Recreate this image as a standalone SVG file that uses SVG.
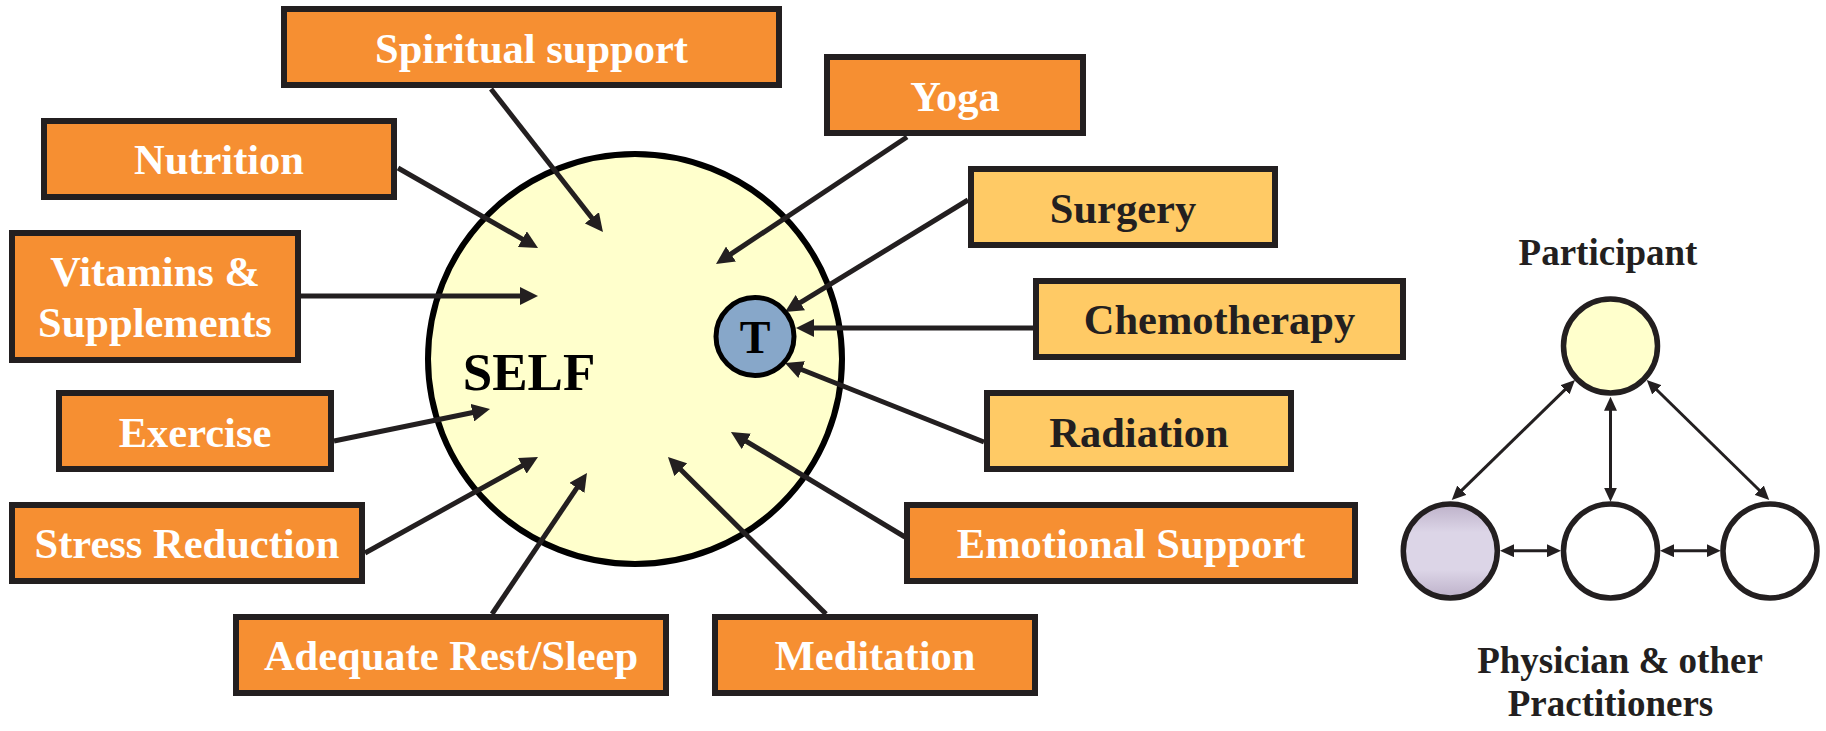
<svg xmlns="http://www.w3.org/2000/svg" width="1826" height="731" viewBox="0 0 1826 731">
<style>
.box{stroke:#231F20;stroke-width:6}
.or{fill:#F68F32}
.lt{fill:#FFCA65}
.tw{font-family:"Liberation Serif","Times New Roman",serif;font-weight:bold;font-size:42.5px;fill:#FFFFFF;text-anchor:middle}
.td{font-family:"Liberation Serif","Times New Roman",serif;font-weight:bold;font-size:42.5px;fill:#231F20;text-anchor:middle}
.lbl{font-family:"Liberation Serif","Times New Roman",serif;font-weight:bold;font-size:37px;fill:#231F20;text-anchor:middle}
.ar{stroke:#231F20;stroke-width:5;fill:none;marker-end:url(#ah)}
.ar2{stroke:#231F20;stroke-width:3;fill:none;marker-end:url(#sh);marker-start:url(#sh)}
.c{stroke:#231F20;stroke-width:5.5}
</style>
<defs>
<marker id="ah" markerUnits="userSpaceOnUse" markerWidth="18" markerHeight="18" refX="3" refY="9" orient="auto">
<path d="M0,0 L18,9 L0,18 z" fill="#231F20"/>
</marker>
<marker id="sh" markerUnits="userSpaceOnUse" markerWidth="14" markerHeight="13" refX="3" refY="6.5" orient="auto-start-reverse">
<path d="M0,0 L14,6.5 L0,13 z" fill="#231F20"/>
</marker>
<linearGradient id="lav" x1="0" y1="0" x2="0" y2="1">
<stop offset="0" stop-color="#BDB1C9"/>
<stop offset="0.3" stop-color="#DCD5E7"/>
<stop offset="0.7" stop-color="#DCD5E7"/>
<stop offset="1" stop-color="#BDB1C9"/>
</linearGradient>
</defs>
<rect width="1826" height="731" fill="#FFFFFF"/>

<g id="self">
<ellipse cx="635" cy="359" rx="207" ry="205" fill="#FFFFCC" stroke="#000000" stroke-width="6"/>
<text x="529" y="390" style="font-family:'Liberation Serif','Times New Roman',serif;font-weight:bold;font-size:53px;fill:#000000" text-anchor="middle">SELF</text>
</g>

<g id="connectors">
<line class="ar" x1="491" y1="89" x2="593.7" y2="220.2"/>
<line class="ar" x1="398" y1="168" x2="525" y2="240.6"/>
<line class="ar" x1="301" y1="296" x2="523" y2="296"/>
<line class="ar" x1="334" y1="441" x2="475.3" y2="412"/>
<line class="ar" x1="365" y1="553" x2="524.9" y2="464.3"/>
<line class="ar" x1="492" y1="614" x2="578.6" y2="485.4"/>
<line class="ar" x1="826" y1="614" x2="678.6" y2="467.6"/>
<line class="ar" x1="905" y1="537" x2="743.8" y2="439.8"/>
<line class="ar" x1="984" y1="442" x2="798.9" y2="368.5"/>
<line class="ar" x1="1036" y1="328" x2="811" y2="328"/>
<line class="ar" x1="968" y1="200" x2="797.8" y2="304.2"/>
<line class="ar" x1="907" y1="137" x2="728.5" y2="255.7"/>
<line class="ar2" x1="1567.1" y1="387.7" x2="1459.6" y2="492.3"/>
<line class="ar2" x1="1654.6" y1="387.7" x2="1761.4" y2="492.3"/>
<line class="ar2" x1="1610.5" y1="407.7" x2="1610.5" y2="490.7"/>
<line class="ar2" x1="1511" y1="550.7" x2="1550" y2="550.7"/>
<line class="ar2" x1="1671" y1="550.7" x2="1709.7" y2="550.7"/>
</g>

<g id="tumor">
<circle cx="755" cy="336.5" r="39" fill="#87A7C9" stroke="#000000" stroke-width="5"/>
<text x="755" y="352.5" style="font-family:'Liberation Serif','Times New Roman',serif;font-weight:bold;font-size:46px;fill:#000000" text-anchor="middle">T</text>
</g>

<g id="spiritual"><rect class="box or" x="284" y="9" width="495" height="76"/><text class="tw" x="531.5" y="63">Spiritual support</text></g>
<g id="nutrition"><rect class="box or" x="44" y="121" width="350" height="76"/><text class="tw" x="219" y="174">Nutrition</text></g>
<g id="vitamins"><rect class="box or" x="12" y="233" width="286" height="127"/><text class="tw" x="155" y="286">Vitamins &amp;</text><text class="tw" x="155" y="337">Supplements</text></g>
<g id="exercise"><rect class="box or" x="59" y="393" width="272" height="76"/><text class="tw" x="195" y="447">Exercise</text></g>
<g id="stress"><rect class="box or" x="12" y="505" width="350" height="76"/><text class="tw" x="187" y="558">Stress Reduction</text></g>
<g id="rest"><rect class="box or" x="236" y="617" width="430" height="76"/><text class="tw" x="451" y="670">Adequate Rest/Sleep</text></g>
<g id="meditation"><rect class="box or" x="715" y="617" width="320" height="76"/><text class="tw" x="875" y="670">Meditation</text></g>
<g id="emotional"><rect class="box or" x="907" y="505" width="448" height="76"/><text class="tw" x="1131" y="558">Emotional Support</text></g>
<g id="radiation"><rect class="box lt" x="987" y="393" width="304" height="76"/><text class="td" x="1139" y="447">Radiation</text></g>
<g id="chemotherapy"><rect class="box lt" x="1036" y="281" width="367" height="76"/><text class="td" x="1219.5" y="334">Chemotherapy</text></g>
<g id="surgery"><rect class="box lt" x="971" y="169" width="304" height="76"/><text class="td" x="1123" y="222.5">Surgery</text></g>
<g id="yoga"><rect class="box or" x="827" y="57" width="256" height="76"/><text class="tw" x="955" y="110.5">Yoga</text></g>

<g id="participant">
<text class="lbl" x="1608" y="265">Participant</text>
<circle class="c" cx="1610.5" cy="346" r="47" fill="#FFFFCC"/>
</g>
<g id="practitioner1"><circle class="c" cx="1450.3" cy="551" r="47" fill="url(#lav)"/></g>
<g id="practitioner2"><circle class="c" cx="1610.5" cy="551" r="47" fill="#FFFFFF"/></g>
<g id="practitioner3"><circle class="c" cx="1770" cy="551" r="47" fill="#FFFFFF"/></g>
<g id="practitioners-label">
<text class="lbl" x="1620" y="673">Physician &amp; other</text>
<text class="lbl" x="1610.5" y="716">Practitioners</text>
</g>
</svg>
